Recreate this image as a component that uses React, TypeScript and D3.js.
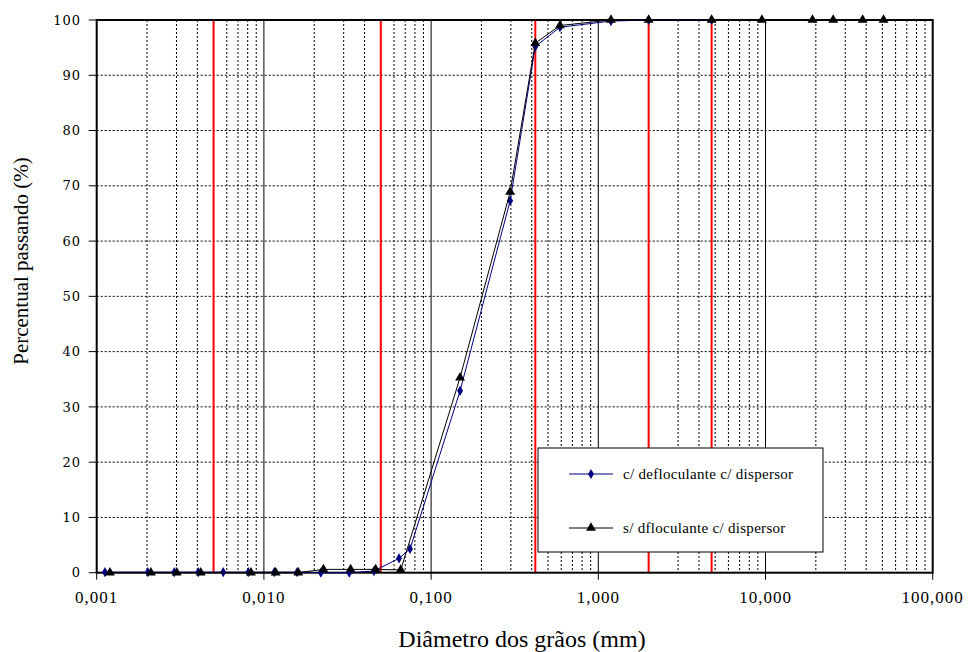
import React from "react";
import * as d3 from "d3";

const W = 968;
const H = 652;

const diamBlue = [0.00112, 0.00202, 0.00291, 0.00405, 0.00571, 0.00807, 0.01154, 0.0158, 0.0219, 0.0324, 0.0455, 0.0643, 0.0748, 0.149, 0.297, 0.42, 0.59, 1.19, 2.0, 4.76];
const pctBlue = [0.1, 0.1, 0.1, 0.1, 0.1, 0.1, 0.1, 0.1, 0, 0, 0.3, 2.6, 4.3, 32.9, 67.3, 95.2, 98.7, 99.8, 100, 100];

const diamBlack = [0.0012, 0.00211, 0.00301, 0.00419, 0.00837, 0.01176, 0.01606, 0.0227, 0.033, 0.0466, 0.0658, 0.149, 0.297, 0.42, 0.59, 1.19, 2.0, 4.76, 9.52, 19.1, 25.4, 38.1, 50.8];
const pctBlack = [0, 0, 0, 0, 0, 0, 0, 0.6, 0.6, 0.6, 0.5, 35.3, 68.9, 95.8, 99.0, 100, 100, 100, 100, 100, 100, 100, 100];

const redLines = [0.005, 0.05, 0.42, 2.0, 4.76];
const xTickValues = [0.001, 0.01, 0.1, 1, 10, 100];
const xTickLabels = ["0,001", "0,010", "0,100", "1,000", "10,000", "100,000"];
const yTickValues = [0, 10, 20, 30, 40, 50, 60, 70, 80, 90, 100];

const seriesNames = ["c/ defloculante c/ dispersor", "s/ dfloculante c/ dispersor"];

const L = 96.7, R = 932.7, T = 20, B = 572.7;

const SERIF = "Liberation Serif, Times New Roman, serif";
const DSERIF = "DejaVu Serif, serif";

export default function App() {
  const x = d3.scaleLog().domain([0.001, 100]).range([L, R]);
  const y = d3.scaleLinear().domain([0, 100]).range([B, T]);

  const minor: number[] = [];
  for (let e = -3; e < 2; e++) {
    for (let k = 2; k <= 9; k++) minor.push(k * Math.pow(10, e));
  }
  const majorInner = [0.01, 0.1, 1, 10];

  const line = d3
    .line<[number, number]>()
    .x((d) => x(d[0]))
    .y((d) => y(d[1]));

  const blue: [number, number][] = diamBlue.map((d, i) => [d, pctBlue[i]]);
  const black: [number, number][] = diamBlack.map((d, i) => [d, pctBlack[i]]);

  const diamond = d3.symbol().type(d3.symbolDiamond).size(30)() as string;
  const triangle = d3.symbol().type(d3.symbolTriangle).size(42)() as string;

  return (
    <svg width={W} height={H} style={{ position: "absolute", left: 0, top: 0, background: "#fff" }}>
      <rect x={0} y={0} width={W} height={H} fill="#fff" />
      {yTickValues.slice(1, -1).map((v) => (
        <line key={"h" + v} x1={L} x2={R} y1={y(v)} y2={y(v)} stroke="#000" strokeWidth={1} strokeDasharray="2,2" />
      ))}
      {minor.map((v, i) => (
        <line key={"m" + i} x1={x(v)} x2={x(v)} y1={T} y2={B} stroke="#000" strokeWidth={1} strokeDasharray="2,2" />
      ))}
      {majorInner.map((v) => (
        <line key={"M" + v} x1={x(v)} x2={x(v)} y1={T} y2={B} stroke="#000" strokeWidth={1} />
      ))}
      {redLines.map((v) => (
        <line key={"r" + v} x1={x(v)} x2={x(v)} y1={T} y2={B} stroke="#ff0000" strokeWidth={2} />
      ))}
      <rect x={L} y={T} width={R - L} height={B - T} fill="none" stroke="#000" strokeWidth={2} />
      {yTickValues.map((v) => (
        <g key={"yt" + v}>
          <line x1={L - 8} x2={L} y1={y(v)} y2={y(v)} stroke="#000" strokeWidth={1} />
          <text x={81} y={y(v)} dy="0.36em" textAnchor="end" style={{ fontFamily: DSERIF, fontSize: 13, letterSpacing: 1 }}>
            {v}
          </text>
        </g>
      ))}
      {xTickValues.map((v, i) => (
        <g key={"xt" + v}>
          <line x1={x(v)} x2={x(v)} y1={B} y2={B + 7} stroke="#000" strokeWidth={1} />
          <text x={x(v)} y={603} textAnchor="middle" style={{ fontFamily: SERIF, fontSize: 17, letterSpacing: 1 }}>
            {xTickLabels[i]}
          </text>
        </g>
      ))}
      <path d={line(blue) as string} fill="none" stroke="#000080" strokeWidth={1} />
      {blue.map((d, i) => (
        <path key={"b" + i} d={diamond} transform={`translate(${x(d[0])},${y(d[1])})`} fill="#000080" />
      ))}
      <path d={line(black) as string} fill="none" stroke="#000" strokeWidth={1} />
      {black.map((d, i) => (
        <path key={"k" + i} d={triangle} transform={`translate(${x(d[0])},${y(d[1])})`} fill="#000" />
      ))}
      <rect x={538} y={448} width={285} height={104} fill="#fff" stroke="#000" strokeWidth={1} />
      <line x1={569} x2={613} y1={474} y2={474} stroke="#000080" strokeWidth={1} />
      <path d={diamond} transform="translate(591,474)" fill="#000080" />
      <text x={623} y={474} dy="0.33em" style={{ fontFamily: SERIF, fontSize: 15, letterSpacing: 0.3 }}>
        {seriesNames[0]}
      </text>
      <line x1={569} x2={613} y1={528} y2={528} stroke="#000" strokeWidth={1} />
      <path d={triangle} transform="translate(591,528)" fill="#000" />
      <text x={623} y={528} dy="0.33em" style={{ fontFamily: SERIF, fontSize: 15, letterSpacing: 0.3 }}>
        {seriesNames[1]}
      </text>
      <text x={522} y={647} textAnchor="middle" style={{ fontFamily: SERIF, fontSize: 24 }}>
        Diâmetro dos grãos (mm)
      </text>
      <text transform="translate(28,261) rotate(-90)" textAnchor="middle" style={{ fontFamily: SERIF, fontSize: 21 }}>
        Percentual passando (%)
      </text>
    </svg>
  );
}
